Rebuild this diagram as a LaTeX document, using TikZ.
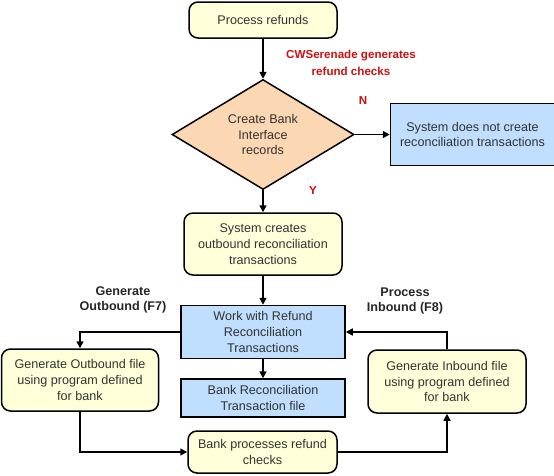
\documentclass[tikz,border=0pt]{standalone}
\usepackage{fontspec}
\setmainfont{Liberation Sans}
\usetikzlibrary{arrows.meta, positioning, shapes.geometric}
\definecolor{stepyellow}{HTML}{FFFFD9}
\definecolor{steporange}{HTML}{FCD7B3}
\definecolor{stepblue}{HTML}{C0DEFD}
\definecolor{labelred}{HTML}{CC1111}
\definecolor{textgray}{HTML}{333333}

\begin{document}
\begin{tikzpicture}[
  x=1pt, y=-1pt,
  font=\fontsize{12.6}{15.7}\selectfont,
  proc/.style={draw, line width=1.5pt, rounded corners=9pt, fill=stepyellow, text=textgray, align=center, inner sep=0pt},
  sysbox/.style={draw, line width=1.5pt, fill=stepblue, text=textgray, align=center, inner sep=0pt},
  decision/.style={draw, line width=1.5pt, diamond, aspect=1.65, fill=steporange, text=textgray, align=center, inner sep=0pt, minimum width=182pt, minimum height=110pt},
  redlbl/.style={text=labelred, font=\fontsize{11.6}{17}\selectfont\bfseries, align=center},
  keylbl/.style={font=\fontsize{12.6}{15.5}\selectfont\bfseries, align=center, text=black!85},
  >={Triangle[length=7pt, width=7pt]}
]
\useasboundingbox (0,0) rectangle (554,475);

\node[proc, minimum width=148pt, minimum height=36pt] (refunds) at (263,20) {Process refunds};
\node[decision, below=40pt of refunds] (bankrec) {Create Bank\\Interface\\records};
\node[sysbox, right=35pt of bankrec, minimum width=164pt, minimum height=62pt] (nosys) {System does not create\\reconciliation transactions};
\node[proc, below=22pt of bankrec, minimum width=158pt, minimum height=62pt] (creates) {System creates\\outbound reconciliation\\transactions};
\node[sysbox, below=29pt of creates, minimum width=164pt, minimum height=53pt] (work) {Work with Refund\\Reconciliation\\Transactions};
\node[sysbox, below=19pt of work, minimum width=164pt, minimum height=38pt] (recfile) {Bank Reconciliation\\Transaction file};
\node[proc, minimum width=157pt, minimum height=62pt] (genout) at (80,380) {Generate Outbound file\\using program defined\\for bank};
\node[proc, minimum width=158pt, minimum height=63pt] (genin) at (447,381.5) {Generate Inbound file\\using program defined\\for bank};
\node[proc, minimum width=149pt, minimum height=42pt] (bankproc) at (262.5,452) {Bank processes refund\\checks};

% labels
\node[redlbl] (serenade) at (351,63) {CWSerenade generates\\refund checks};
\node[redlbl] (nlbl) at (363,101) {N};
\node[redlbl] (ylbl) at (313,191) {Y};
\node[keylbl] (outlbl) at (123,300) {Generate\\Outbound (F7)};
\node[keylbl] (inlbl) at (405,301) {Process\\Inbound (F8)};

\draw[->, line width=1.5pt] (refunds) -- (bankrec);
\draw[->, line width=1.5pt] (bankrec) -- (nosys);
\draw[->, line width=1.5pt] (bankrec) -- (creates);
\draw[->, line width=1.5pt] (creates) -- (work);
\draw[->, line width=1.5pt] (work) -- (recfile);
\draw[->, line width=1.5pt] (work) -| (genout);
\draw[->, line width=1.5pt] (genout) |- (bankproc);
\draw[->, line width=1.5pt] (bankproc) -| (genin);
\draw[->, line width=1.5pt] (genin) |- (work);
\end{tikzpicture}
\end{document}
